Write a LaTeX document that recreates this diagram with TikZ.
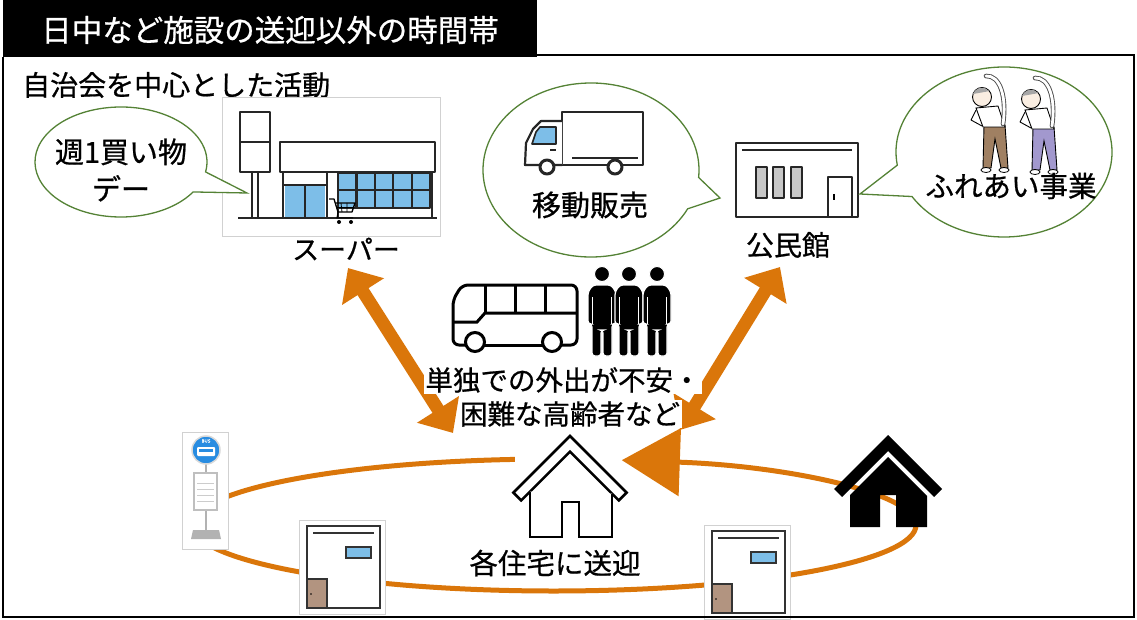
\documentclass[tikz,border=0pt]{standalone}
\usepackage{fontspec}
\setmainfont{Noto Sans CJK JP}[FakeBold=0.7]
\usetikzlibrary{arrows.meta}

\definecolor{routeorange}{RGB}{218,118,10}
\definecolor{bubblegreen}{RGB}{84,130,53}
\definecolor{glassblue}{RGB}{125,190,232}
\definecolor{doorbrown}{RGB}{178,148,128}
\definecolor{pantsbrown}{RGB}{160,128,98}
\definecolor{pantspurple}{RGB}{162,152,206}
\definecolor{stopblue}{RGB}{40,140,225}
\definecolor{skin}{RGB}{250,238,226}

\tikzset{
  lbl/.style={inner sep=0pt, font=\fontsize{28}{30}\selectfont},
  bubble/.style={draw=bubblegreen, line width=1.3pt, fill=white},
  photo/.style={draw=black!18, line width=0.8pt, fill=white},
  ink/.style={draw=black!85, line width=2.2pt, line join=round},
  twoway/.style={draw=routeorange, line width=13pt,
    {Triangle[length=28pt,width=48pt]}-{Triangle[length=28pt,width=48pt]}},
  route/.style={draw=routeorange, line width=5pt},
}

\begin{document}
\begin{tikzpicture}[x=1pt,y=-1pt]
\useasboundingbox (0,0) rectangle (1137,620);

% title bar
\fill[black] (3,0) rectangle (537,57);
\node[lbl, text=white, font=\fontsize{30.5}{32}\selectfont] (title) at (270,30) {日中など施設の送迎以外の時間帯};
\node[lbl, anchor=west] (activity) at (22,85) {自治会を中心とした活動};

% supermarket
\draw[photo] (222,97) rectangle (440,236);
\draw[ink, fill=white] (240,112) rectangle (270,172);
\draw[ink] (240,142) -- (270,142);
\draw[ink] (252,172) -- (252,218) (258,172) -- (258,218);
\draw[ink, fill=white] (280,142) rectangle (435,172);
\fill[glassblue] (285,186) rectangle (325,218);
\draw[ink] (283,172) -- (283,218) (327,172) -- (327,218) (283,185) -- (327,185) (305,185) -- (305,218);
\fill[glassblue] (338,173) rectangle (430,208);
\draw[ink] (338,173) rectangle (430,208) (338,190) -- (430,190);
\foreach \gx in {356.4,374.8,393.2,411.6}
  \draw[ink] (\gx,173) -- (\gx,208);
\draw[ink] (338,172) -- (338,218) (432,172) -- (432,218);
\draw[ink] (238,218) -- (437,218);
% cart
\draw[line width=1.3pt, line join=round] (329,199) -- (334,199) -- (338,212) -- (352,212) -- (355,203) -- (335,203);
\draw[line width=0.8pt] (341,203) -- (342,212) (347,203) -- (347,212) (336,207.5) -- (353,207.5);
\fill (339,222) circle (2) (351,222) circle (2);
\draw[line width=1pt] (338,212) -- (337,218) -- (353,218);
\node[lbl, font=\fontsize{27}{29}\selectfont] (super) at (346,249) {スーパー};

% bubble: weekly shopping day
\draw[bubble] (121,162) ++(33:86 and 55) arc[start angle=33, end angle=370.4, x radius=86, y radius=55] -- (247,193) -- cycle;
\node[lbl, align=center, font=\fontsize{29}{37}\selectfont] (shopday) at (121,170) {週1買い物\\デー};

% bubble: mobile sales
\draw[bubble] (591,170) ++(26.5:108 and 87) arc[start angle=26.5, end angle=364.9, x radius=108, y radius=87] -- (720,198) -- cycle;
\draw[ink, fill=white] (562,112) rectangle (643,165);
\draw[ink, line width=1.4pt] (572,158) -- (638,158);
\draw[ink, fill=white] (562,121) -- (541,121) -- (533,129) -- (526,143) -- (525,165) -- (562,165);
\draw[ink, line width=1.6pt, fill=glassblue] (536,132) -- (540,127) -- (556,127) -- (556,144) -- (532,144) -- cycle;
\draw[ink, line width=1.4pt] (550,150) -- (556,150);
\foreach \wx in {547,615}
  \draw[ink, line width=3pt, fill=white] (\wx,167) circle (7);
\node[lbl, font=\fontsize{29}{31}\selectfont] (mobile) at (590,205) {移動販売};

% community hall
\draw[ink, fill=white] (736,143) rectangle (858,217);
\draw[ink] (742,150) -- (852,150);
\foreach \wx in {756,773,791}
  \draw[ink, line width=1.6pt, fill=black!22] (\wx,167) rectangle ++(11,31);
\draw[ink, line width=1.6pt] (828,217) -- (828,177) -- (852,177) -- (852,217);
\draw[line width=1.5pt] (834,194) -- (834,200);
\node[lbl] (hall) at (788,245) {公民館};

% bubble: exercise meeting
\draw[bubble] (1004,152) ++(171.1:108 and 85) arc[start angle=171.1, end angle=508.4, x radius=108, y radius=85] -- (860,194) -- cycle;
\foreach \px/\py/\pc in {982/97/pantsbrown, 1031/99/pantspurple} {
  \begin{scope}[shift={(\px,\py)}]
    \draw[line width=0.9pt, fill=\pc] (2,28) -- (23,28) -- (26,71) -- (19,71) -- (13,42) -- (9,71) -- (1,71) -- cycle;
    \draw[line width=0.9pt, fill=white] (-6,11) -- (16,9) -- (23,30) -- (1,30) -- cycle;
    \draw[line width=4.6pt, black!70, line cap=round] (21,27) .. controls (25,0) and (18,-22) .. (4,-21);
    \draw[line width=2.8pt, white, line cap=round] (21,27) .. controls (25,0) and (18,-22) .. (4,-21);
    \draw[line width=0.9pt, line join=round] (-6,13) -- (-11,23) -- (0,29);
    \draw[line width=0.9pt, fill=skin] (0,0) circle (9.5);
    \fill[black!35] (-9,-3) arc[start angle=200, end angle=320, radius=9.5] -- cycle;
    \draw[line width=0.8pt, fill=white] (4,73) ellipse (5 and 2.5) (22,73) ellipse (5 and 2.5);
  \end{scope}
}
\node[lbl, font=\fontsize{28.5}{30}\selectfont] (fureai) at (1011,186) {ふれあい事業};

% two-way trips
\coordinate (superTip) at (348,268);
\coordinate (groupL) at (453,433);
\coordinate (hallTip) at (780,267);
\coordinate (groupR) at (680,430);
\draw[twoway] (groupL) -- (superTip);
\draw[twoway] (groupR) -- (hallTip);

% bus and riders
\draw[line width=3pt, rounded corners=6pt] (465,345) -- (453,345) -- (453,300) -- (462,285) -- (577,285) -- (577,345) -- (562,345);
\draw[line width=3pt] (485,345) -- (542,345);
\draw[line width=3pt] (453,322) -- (477,322) -- (485,313) -- (577,313);
\foreach \dx in {485,515,545}
  \draw[line width=3pt] (\dx,285) -- (\dx,313);
\foreach \wx in {475,552}
  \draw[line width=3pt, fill=white] (\wx,342) circle (9.5);
\foreach \fx in {602,629,657} {
  \fill[draw=white, line width=1.2pt, rounded corners=3pt]
    (\fx-14,324) -- (\fx-14,292) -- (\fx-9,285) -- (\fx+9,285) -- (\fx+14,292) -- (\fx+14,324)
    -- (\fx+10,324) -- (\fx+10,356) -- (\fx+1,356) -- (\fx+1,330) -- (\fx-1,330) -- (\fx-1,356)
    -- (\fx-10,356) -- (\fx-10,324) -- cycle;
  \draw[white, line width=1.2pt] (\fx-9.5,297) -- (\fx-9.5,324) (\fx+9.5,297) -- (\fx+9.5,324);
  \fill[draw=white, line width=1pt] (\fx,274) circle (7.5);
}
\node[lbl, fill=white, inner sep=1.5pt, font=\fontsize{27.5}{29}\selectfont] (elder1) at (563,380) {単独での外出が不安・};
\node[lbl, fill=white, inner sep=1.5pt, font=\fontsize{27.5}{29}\selectfont] (elder2) at (570,414) {困難な高齢者など};

% pick-up loop
\coordinate (loopC) at (554,525);
\draw[route, -{Triangle[length=58pt,width=67pt]}] (loopC) ++(263.8:362 and 66)
  arc[start angle=263.8, end angle=-79.2, x radius=362, y radius=66];

% bus stop
\draw[photo] (182,432) rectangle (228,549);
\draw[black!30, line width=2pt] (206,462) -- (206,532);
\draw[black!25, line width=1.2pt, fill=white] (194,473) rectangle (217,510);
\foreach \ly in {483,489,495,501}
  \draw[black!20, line width=0.5pt] (197,\ly) -- (214,\ly);
\fill[black!30] (193,530) -- (219,530) -- (221,539) -- (191,539) -- cycle;
\fill[stopblue, draw=black!15, line width=1.5pt] (206,450) circle (14);
\fill[white, rounded corners=1pt] (197,447) rectangle (215,456);
\fill[stopblue] (199,449) rectangle (213,452);
\node[inner sep=0pt, text=white, font=\fontsize{4.5}{5}\selectfont] (busmark) at (206,441) {BUS};

% houses on the route
\foreach \hx/\hy in {299/520, 704/525} {
  \begin{scope}[shift={(\hx,\hy)}]
    \draw[photo] (0,0) rectangle (86,94);
    \draw[line width=2pt, draw=black!80, fill=white] (8,6) rectangle (81,88);
    \draw[line width=2pt, draw=black!80] (14,13) -- (75,13);
    \draw[line width=1.6pt, draw=black!80, fill=glassblue] (47,27) rectangle (72,38);
    \draw[line width=2pt, draw=black!80, fill=doorbrown] (8,59) rectangle (28,88);
    \fill (12,74) circle (0.9);
  \end{scope}
}

% centre house
\draw[line width=2.6pt, fill=white, line join=miter] (513.4,492.6) -- (570,436) -- (626.6,492.6) -- (618.8,500.4) -- (570,451.6) -- (521.2,500.4) -- cycle;
\draw[line width=2.6pt, fill=white] (530,491.6) -- (530,537) -- (562,537) -- (562,502) -- (579,502) -- (579,537) -- (612,537) -- (612,493.6);
\node[lbl, font=\fontsize{28.5}{30}\selectfont] (homes) at (555,563) {各住宅に送迎};

% black house
\draw[line width=11.3pt] (838,493) -- (888,443) -- (938,493);
\fill (888,457) -- (850,495) -- (850,527) -- (880,527) -- (880,495) -- (896,495) -- (896,527) -- (927,527) -- (927,496) -- cycle;

% frame
\draw[line width=1.6pt] (3,57) -- (3,617) -- (1134,617) -- (1134,55) -- (537,55);
\end{tikzpicture}
\end{document}
